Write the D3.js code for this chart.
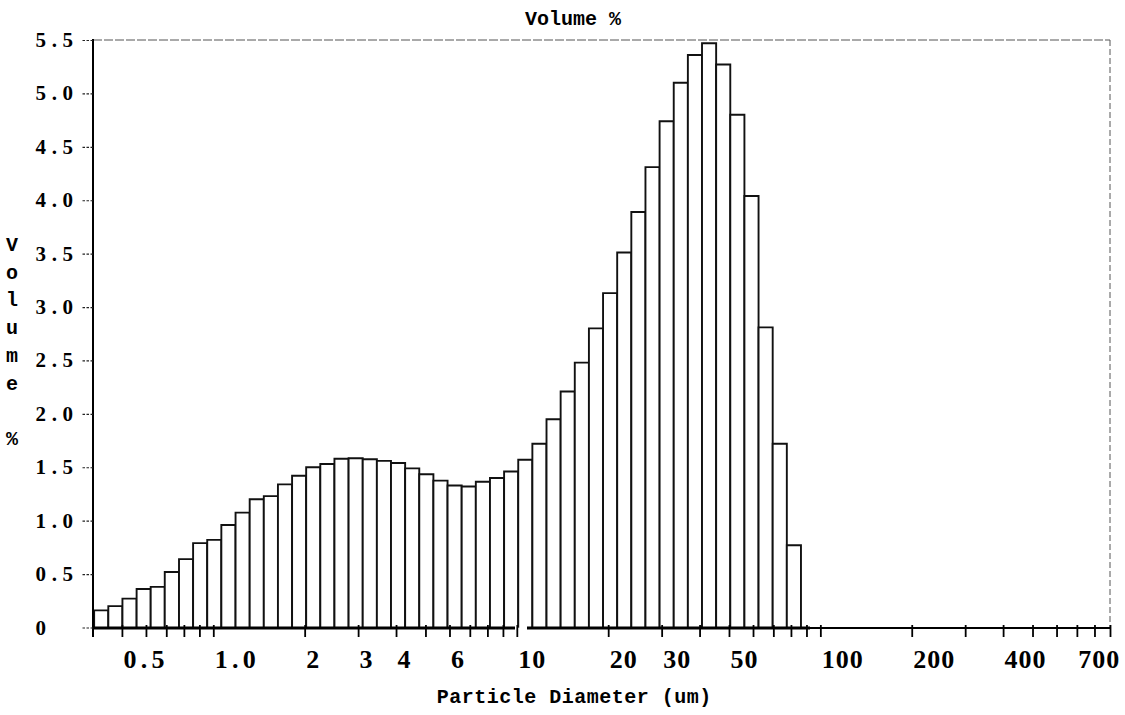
<!DOCTYPE html>
<html><head><meta charset="utf-8">
<script src="https://cdn.jsdelivr.net/npm/d3@7"></script>
<style>body{margin:0;background:#fff}svg{display:block}</style>
</head><body>
<svg id="chart" width="1125" height="715"></svg>
<script>
// ---- data ----
const binEdges = [0.405,0.451,0.502,0.559,0.622,0.692,0.771,0.858,0.955,1.063,1.184,1.318,1.467,1.633,1.818,2.023,2.252,2.507,2.791,3.107,3.459,3.850,4.286,4.771,5.311,5.913,6.582,7.327,8.157,9.080,10.108,11.252,12.526,13.943,15.522,17.279,19.235,21.412,23.836,26.534,29.538,32.882,36.604,40.748,45.360,50.495,56.211,62.574,69.658,77.543,86.321];
const volumePct = [0.16,0.20,0.27,0.36,0.38,0.52,0.64,0.79,0.82,0.96,1.075,1.20,1.23,1.34,1.42,1.50,1.53,1.58,1.585,1.575,1.56,1.54,1.49,1.435,1.375,1.33,1.32,1.365,1.40,1.46,1.57,1.72,1.95,2.21,2.48,2.80,3.13,3.51,3.89,4.31,4.74,5.10,5.36,5.47,5.27,4.80,4.04,2.81,1.72,0.77];
const xTickValues = [0.5,0.6,0.7,0.8,0.9,1,2,3,4,5,6,7,8,9,10,20,30,40,50,60,70,80,90,100,200,300,400,500,600,700,800,900];
const xLabelValues = [0.5,1,2,3,4,6,10,20,30,50,100,200,400,700];
const xLabelTexts = ["0.5","1.0","2","3","4","6","10","20","30","50","100","200","400","700"];
const yTickValues = [0,0.5,1,1.5,2,2.5,3,3.5,4,4.5,5,5.5];
const yLabelTexts = ["0","0.5","1.0","1.5","2.0","2.5","3.0","3.5","4.0","4.5","5.0","5.5"];
const chartTitle = "Volume %";
const xTitle = "Particle Diameter (um)";
const yTitle = "Volume %";

const svg = d3.select("#chart");
const x = d3.scaleLog().domain([0.4, 900]).range([92.5, 1110]);
const y = d3.scaleLinear().domain([0, 5.5]).range([627.5, 40]);
const y0 = y(0);

// monospaced text helper: each character centred in a fixed-width cell
function mono(g, str, left, baseY, adv, cls) {
  const t = g.append("text").attr("class", cls).attr("text-anchor", "middle");
  [...str].forEach((ch, i) => {
    t.append("tspan").attr("x", left + adv * (i + 0.5)).attr("y", baseY).text(ch);
  });
  return t;
}

// frame
svg.append("line").attr("x1", 93).attr("x2", 1110).attr("y1", 40).attr("y2", 40)
  .attr("stroke", "#555").attr("stroke-width", 1).attr("stroke-dasharray", "9 2");
svg.append("line").attr("x1", 1110).attr("x2", 1110).attr("y1", 40).attr("y2", 628)
  .attr("stroke", "#555").attr("stroke-width", 1).attr("stroke-dasharray", "6 3");

// bars (open at bottom)
svg.append("g").selectAll("path").data(volumePct).join("path")
  .attr("d", (v, i) => {
    const xa = x(binEdges[i]), xb = x(binEdges[i + 1]), yt = y(v);
    return `M${xa},${y0}V${yt}H${xb}V${y0}`;
  })
  .attr("fill", "#fff").attr("stroke", "#111").attr("stroke-width", 1.9);

// baseline (with the small break near 10 um)
const base = svg.append("g").attr("stroke", "#000");
base.append("line").attr("x1", 93).attr("x2", 515).attr("y1", 628).attr("y2", 628).attr("stroke-width", 3);
base.append("line").attr("x1", 527).attr("x2", 810).attr("y1", 628).attr("y2", 628).attr("stroke-width", 3);
base.append("line").attr("x1", 810).attr("x2", 1110).attr("y1", 628).attr("y2", 628).attr("stroke-width", 2);

// left axis line
svg.append("line").attr("x1", 93).attr("x2", 93).attr("y1", 39).attr("y2", 637)
  .attr("stroke", "#000").attr("stroke-width", 2);

// x ticks
const gx = svg.append("g").attr("transform", "translate(0,628)")
  .call(d3.axisBottom(x).tickValues(xTickValues).tickSize(9).tickSizeOuter(0).tickFormat(""));
gx.select(".domain").remove();
gx.selectAll(".tick line").attr("stroke", "#000").attr("stroke-width", 1.8).attr("y1", -3);

// y ticks
const gy = svg.append("g").attr("transform", "translate(93,0)")
  .call(d3.axisLeft(y).tickValues(yTickValues).tickSize(11).tickSizeOuter(0).tickFormat(""));
gy.select(".domain").remove();
gy.selectAll(".tick line").attr("stroke", "#222").attr("stroke-width", 1.2).attr("stroke-dasharray", "2.5 1.5");

// tick labels
const labels = svg.append("g");
xLabelValues.forEach((v, i) => mono(labels, xLabelTexts[i], x(v) + 1, 668, 14, "xl"));
yTickValues.forEach((v, i) => mono(labels, yLabelTexts[i], 34, y(v) + 7, 13.5, "yl"));

// titles
const tg = svg.append("g");
mono(tg, chartTitle, 573 - 12 * chartTitle.length / 2, 25, 12, "tt");
mono(tg, xTitle, 574 - 12.5 * xTitle.length / 2, 703, 12.5, "tt");
const yt = tg.append("text").attr("class", "tt").attr("text-anchor", "middle");
[...yTitle].forEach((ch, i) => {
  yt.append("tspan").attr("x", 12).attr("y", 251 + 27.7 * i).text(ch);
});

svg.selectAll(".xl").style("font-family", "'Liberation Serif', serif").style("font-weight", "bold").style("font-size", "26px").attr("fill", "#000");
svg.selectAll(".yl").style("font-family", "'Liberation Serif', serif").style("font-weight", "bold").style("font-size", "21px").attr("fill", "#000");
svg.selectAll(".tt").style("font-family", "'Liberation Mono', monospace").style("font-weight", "bold").style("font-size", "20px").attr("fill", "#000");
</script>
</body></html>
